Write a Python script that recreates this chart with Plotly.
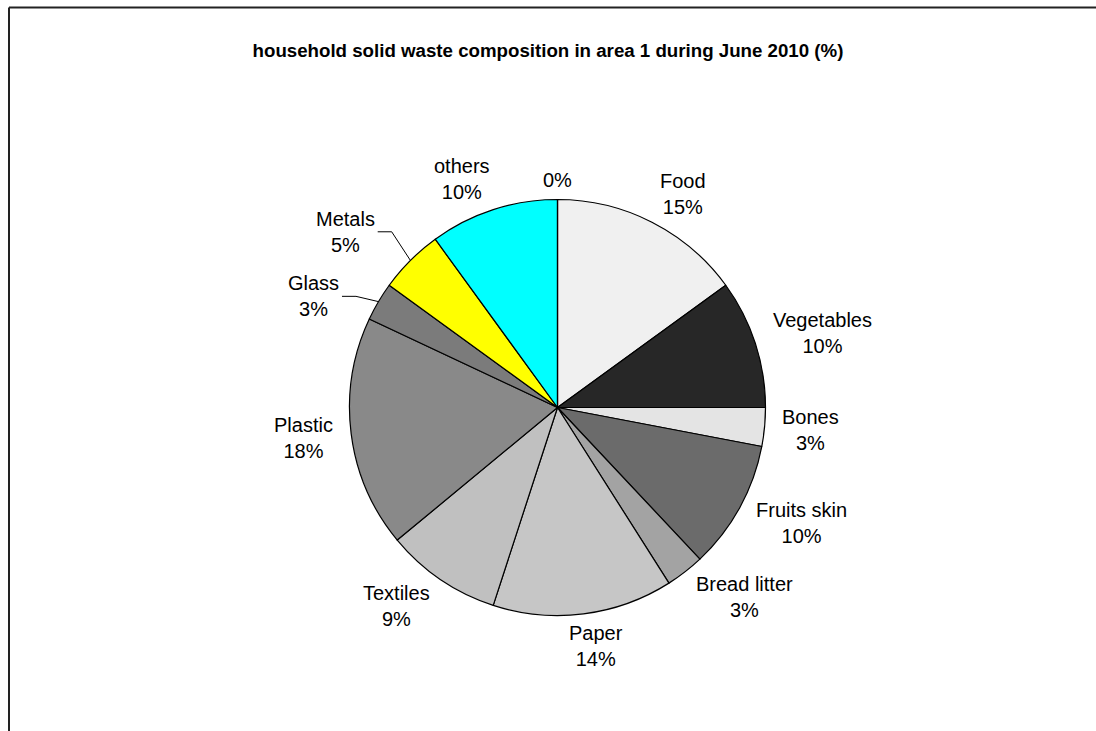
import math
import plotly.graph_objects as go

# Household solid waste composition, area 1, June 2010 (%)
categories = ["Food", "Vegetables", "Bones", "Fruits skin", "Bread litter",
              "Paper", "Textiles", "Plastic", "Glass", "Metals", "others", ""]
shares = [15, 10, 3, 10, 3, 14, 9, 18, 3, 5, 10, 0]
fills = ["#f0f0f0", "#272727", "#e4e4e4", "#6b6b6b", "#a3a3a3", "#c6c6c6",
         "#c0c0c0", "#898989", "#7b7b7b", "#ffff00", "#00ffff", "#ffffff"]

# labels pulled away from the pie and joined to it with a leader line (px shift)
moved_labels = {"Metals": (-23, -6), "Glass": (-24, 11)}

W, H = 1096, 731
cx, cy, R = 557.5, 407.5, 208      # pie centre / radius in pixels
GAP_X, GAP_Y = 18, 6               # label distance beyond the rim
FONT = "Liberation Sans, Arial, sans-serif"
FS = 20
LINE_H = 1.3 * FS


def text_width(s, size=FS):
    """Rough Arial advance width of a string, in pixels."""
    table = {"i": .222, "j": .222, "l": .222, "f": .278, "t": .278, " ": .278,
             "r": .333, "s": .5, "k": .5, "x": .5, "c": .5, "m": .833, "w": .722,
             "%": .889, "F": .611, "T": .611, "G": .778, "M": .833}
    total = 0.0
    for ch in s:
        if ch in table:
            total += table[ch]
        elif ch.isupper():
            total += .667
        else:
            total += .556
    return total * size


def px(x, y):
    return x / W, 1 - y / H


fig = go.Figure(go.Pie(
    labels=[c if c else " " for c in categories],
    values=shares,
    textinfo="none",
    sort=False,
    direction="clockwise",
    rotation=0,
    marker=dict(colors=fills, line=dict(color="#000000", width=1.2)),
    domain=dict(x=[(cx - R) / W, (cx + R) / W], y=[(H - cy - R) / H, (H - cy + R) / H]),
    showlegend=False,
    hoverinfo="label+value",
))

annotations = []
shapes = [
    # chart-area frame (top and left edges)
    dict(type="line", xref="paper", yref="paper", x0=9 / W, x1=1.05,
         y0=1 - 7.5 / H, y1=1 - 7.5 / H, line=dict(color="#222222", width=2)),
    dict(type="line", xref="paper", yref="paper", x0=9 / W, x1=9 / W,
         y0=-0.05, y1=1 - 7.5 / H, line=dict(color="#222222", width=2)),
]

total = sum(shares)
cum = 0.0
for cat, val in zip(categories, shares):
    mid = (cum + val / 2) / total * 2 * math.pi
    cum += val
    ux, uy = math.sin(mid), -math.cos(mid)
    lines = [cat, f"{val}%"] if cat else [f"{val}%"]
    half_w = max(text_width(t) for t in lines) / 2
    half_h = LINE_H * len(lines) / 2
    side = max(-1.0, min(1.0, 3 * ux))
    qx = cx + ux * (R + GAP_X) + half_w * side
    qy = cy + uy * (R + GAP_Y) + half_h * uy
    if cat in moved_labels:
        dx, dy = moved_labels[cat]
        qx += dx
        qy += dy
        # leader line: short horizontal stub, then to the slice rim
        sx = qx + half_w + 3
        ex, ey = cx + ux * R, cy + uy * R
        x0, y0 = px(sx, qy)
        x1, y1 = px(sx + 14, qy)
        x2, y2 = px(ex, ey)
        shapes.append(dict(type="path", xref="paper", yref="paper",
                           path=f"M {x0},{y0} L {x1},{y1} L {x2},{y2}",
                           line=dict(color="#000000", width=1)))
    ax, ay = px(qx, qy)
    annotations.append(dict(
        x=ax, y=ay, xref="paper", yref="paper", showarrow=False,
        xanchor="center", yanchor="middle", align="center",
        text="<br>".join(lines),
        font=dict(family=FONT, size=FS, color="#000000"),
    ))

fig.update_layout(
    width=W, height=H,
    margin=dict(l=0, r=0, t=0, b=0),
    paper_bgcolor="#ffffff",
    plot_bgcolor="#ffffff",
    title=dict(
        text="<b>household solid waste composition in area 1 during June 2010 (%)</b>",
        x=548 / W, xanchor="center", y=1 - 50 / H, yanchor="middle",
        font=dict(family=FONT, size=18.7, color="#000000"),
    ),
    annotations=annotations,
    shapes=shapes,
)

fig.write_html("out.html")
